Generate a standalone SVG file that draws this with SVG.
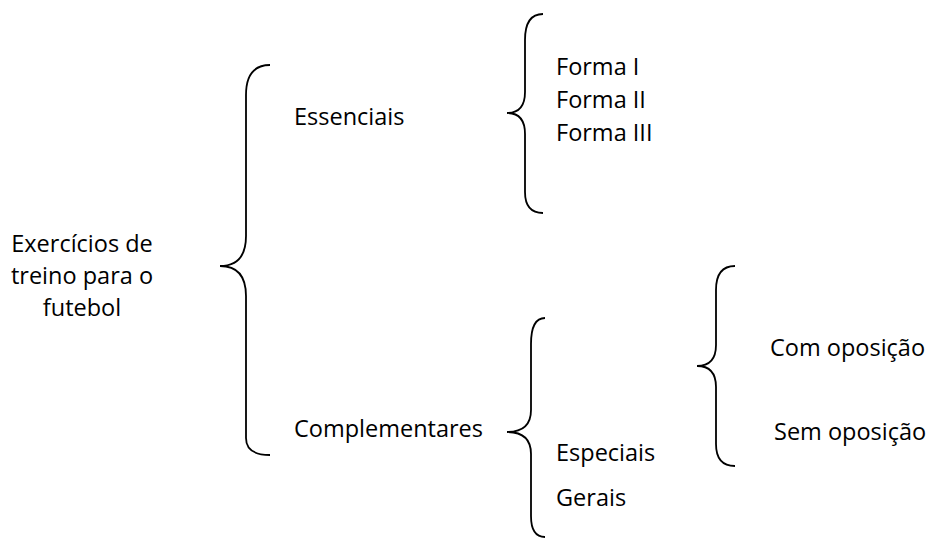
<svg xmlns="http://www.w3.org/2000/svg" width="927" height="538" viewBox="0 0 927 538">
  <style>
    text { font-family: "Open Sans", "Liberation Sans", sans-serif; font-size: 23.5px; fill: #000; }
    .brace { fill: none; stroke: #000; stroke-width: 1.8; }
  </style>
  <rect width="927" height="538" fill="#fff"/>
  <!-- curly braces linking each level to the next -->
  <g id="connectors">
    <path class="brace" d="M270,65 Q246,65 246,95 L246,236 Q246,266 220,266 Q246,266 246,296 L246,438 Q246,455 270,455"/>
    <path class="brace" d="M543,14 Q525,14 525,40 L525,92 Q525,113 507,113 Q525,113 525,134 L525,192 Q525,213 543,213"/>
    <path class="brace" d="M545,318 Q531,318 531,344 L531,410 Q531,432 507,432 Q531,432 531,454 L531,516 Q531,537 545,537"/>
    <path class="brace" d="M735,266 Q716,266 716,290 L716,345 Q716,366 697,366 Q716,366 716,387 L716,444 Q716,466 735,466"/>
  </g>
  <g id="root">
    <text x="82" y="251.5" text-anchor="middle">Exercícios de</text>
    <text x="82" y="283.5" text-anchor="middle">treino para o</text>
    <text x="82" y="315.5" text-anchor="middle">futebol</text>
  </g>
  <g id="essenciais"><text x="294" y="124.5">Essenciais</text></g>
  <g id="forma1"><text x="556" y="74.5">Forma I</text></g>
  <g id="forma2"><text x="556" y="107.5">Forma II</text></g>
  <g id="forma3"><text x="556" y="140.5">Forma III</text></g>
  <g id="complementares"><text x="294" y="436.5">Complementares</text></g>
  <g id="especiais"><text x="556" y="460.5">Especiais</text></g>
  <g id="gerais"><text x="556" y="505.5">Gerais</text></g>
  <g id="com"><text x="770" y="355.5">Com oposição</text></g>
  <g id="sem"><text x="774" y="439.5">Sem oposição</text></g>
</svg>
